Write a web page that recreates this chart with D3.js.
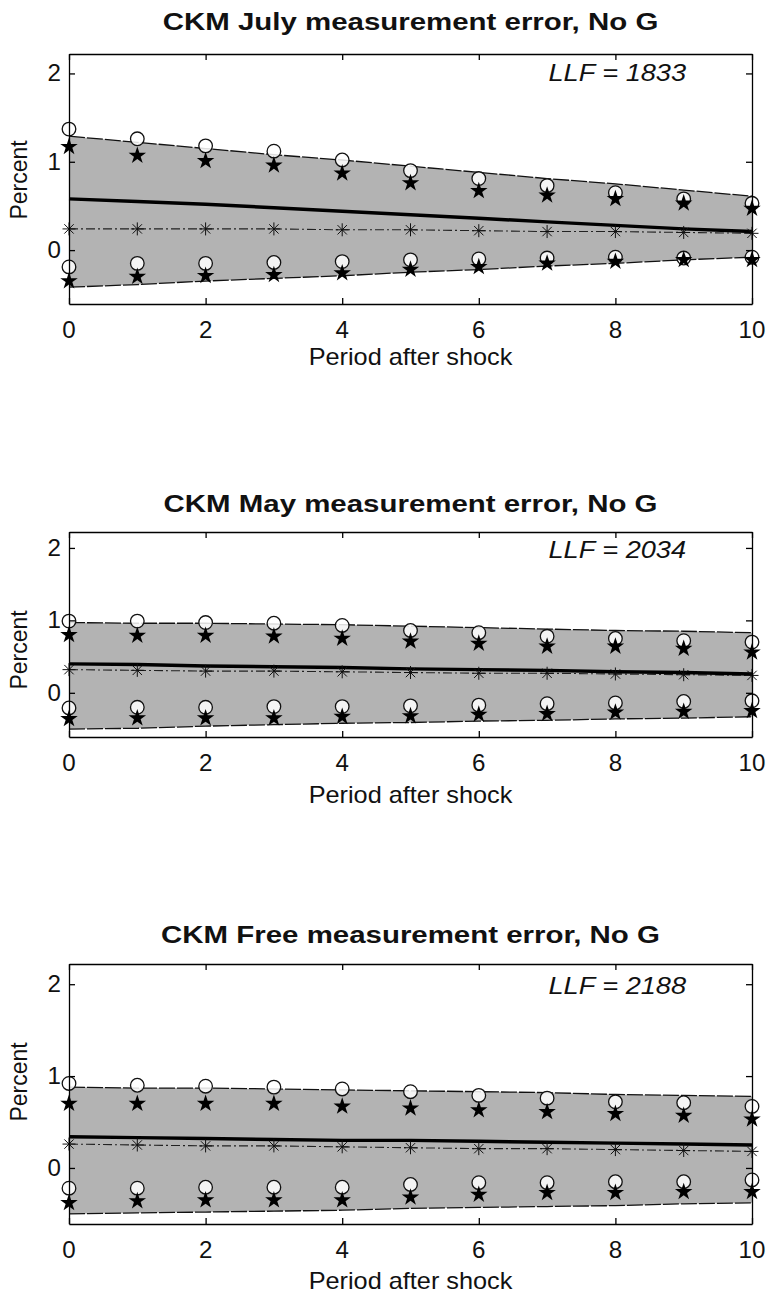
<!DOCTYPE html>
<html>
<head>
<meta charset="utf-8">
<script src="https://cdn.jsdelivr.net/npm/d3@7"></script>
<style>
  html, body { margin: 0; padding: 0; background: #fff; }
  svg { display: block; }
  text { font-family: "Liberation Sans", Arial, Helvetica, sans-serif; fill: #111; }
</style>
</head>
<body>
<script>
// Periods after the shock (x categories)
const periods = [0, 1, 2, 3, 4, 5, 6, 7, 8, 9, 10];
const xTickValues = [0, 2, 4, 6, 8, 10];
const yTickValues = [0, 1, 2];
const yTickLabels = ["0", "1", "2"];
const xTickLabels = ["0", "2", "4", "6", "8", "10"];

const panelTitles = [
  "CKM July measurement error, No G",
  "CKM May measurement error, No G",
  "CKM Free measurement error, No G"
];
const llfValues = [1833, 2034, 2188];
const xAxisLabel = "Period after shock";
const yAxisLabel = "Percent";

// July measurement error
const julyBandUpper = [1.29, 1.22, 1.15, 1.08, 1.02, 0.95, 0.88, 0.81, 0.75, 0.68, 0.61];
const julyBandLower = [-0.42, -0.39, -0.35, -0.32, -0.29, -0.25, -0.22, -0.18, -0.15, -0.11, -0.08];
const julyMedian    = [0.58, 0.55, 0.52, 0.48, 0.44, 0.40, 0.36, 0.32, 0.28, 0.24, 0.21];
const julyPoint     = [0.24, 0.24, 0.24, 0.24, 0.23, 0.23, 0.22, 0.21, 0.21, 0.20, 0.19];
const julyCircleUp  = [1.37, 1.26, 1.18, 1.12, 1.02, 0.90, 0.81, 0.73, 0.65, 0.58, 0.53];
const julyStarUp    = [1.17, 1.07, 1.01, 0.96, 0.87, 0.76, 0.67, 0.62, 0.58, 0.53, 0.47];
const julyCircleLow = [-0.19, -0.15, -0.15, -0.14, -0.13, -0.11, -0.10, -0.09, -0.08, -0.09, -0.08];
const julyStarLow   = [-0.35, -0.30, -0.29, -0.28, -0.26, -0.22, -0.19, -0.15, -0.13, -0.11, -0.11];

// May measurement error
const mayBandUpper = [0.97, 0.96, 0.96, 0.95, 0.94, 0.92, 0.90, 0.88, 0.86, 0.85, 0.83];
const mayBandLower = [-0.50, -0.49, -0.46, -0.44, -0.42, -0.41, -0.39, -0.38, -0.36, -0.35, -0.33];
const mayMedian    = [0.40, 0.39, 0.37, 0.36, 0.35, 0.33, 0.32, 0.31, 0.29, 0.28, 0.26];
const mayPoint     = [0.32, 0.31, 0.30, 0.30, 0.29, 0.28, 0.27, 0.27, 0.26, 0.25, 0.24];
const mayCircleUp  = [0.99, 0.99, 0.97, 0.96, 0.93, 0.86, 0.83, 0.78, 0.75, 0.72, 0.70];
const mayStarUp    = [0.80, 0.79, 0.79, 0.78, 0.75, 0.71, 0.68, 0.64, 0.64, 0.61, 0.56];
const mayCircleLow = [-0.21, -0.20, -0.20, -0.19, -0.19, -0.18, -0.17, -0.15, -0.14, -0.12, -0.11];
const mayStarLow   = [-0.36, -0.35, -0.35, -0.35, -0.33, -0.32, -0.30, -0.29, -0.27, -0.26, -0.25];

// Free measurement error
const freeBandUpper = [0.88, 0.87, 0.87, 0.86, 0.85, 0.84, 0.83, 0.82, 0.80, 0.79, 0.78];
const freeBandLower = [-0.50, -0.49, -0.48, -0.47, -0.46, -0.44, -0.43, -0.42, -0.41, -0.39, -0.38];
const freeMedian    = [0.34, 0.33, 0.32, 0.31, 0.30, 0.30, 0.29, 0.28, 0.27, 0.26, 0.25];
const freePoint     = [0.26, 0.25, 0.24, 0.24, 0.23, 0.22, 0.21, 0.21, 0.20, 0.19, 0.18];
const freeCircleUp  = [0.92, 0.90, 0.89, 0.88, 0.86, 0.83, 0.79, 0.76, 0.72, 0.71, 0.67];
const freeStarUp    = [0.70, 0.70, 0.70, 0.70, 0.67, 0.65, 0.63, 0.61, 0.59, 0.57, 0.53];
const freeCircleLow = [-0.22, -0.22, -0.21, -0.21, -0.21, -0.18, -0.16, -0.16, -0.15, -0.15, -0.13];
const freeStarLow   = [-0.38, -0.36, -0.35, -0.35, -0.35, -0.32, -0.29, -0.27, -0.27, -0.26, -0.26];

const panelSeries = [
  { upper: julyBandUpper, lower: julyBandLower, median: julyMedian, point: julyPoint,
    circleUp: julyCircleUp, starUp: julyStarUp, circleLow: julyCircleLow, starLow: julyStarLow },
  { upper: mayBandUpper, lower: mayBandLower, median: mayMedian, point: mayPoint,
    circleUp: mayCircleUp, starUp: mayStarUp, circleLow: mayCircleLow, starLow: mayStarLow },
  { upper: freeBandUpper, lower: freeBandLower, median: freeMedian, point: freePoint,
    circleUp: freeCircleUp, starUp: freeStarUp, circleLow: freeCircleLow, starLow: freeStarLow }
];

// Page layout
const W = 772, H = 1294;
const plotLeft = 69, plotRight = 752;
const yDomain = [-0.61, 2.22];
const layouts = [
  { top: 54,  bottom: 304,  title: 30,  llf: 81,  xTick: 338,  xLabel: 365,  yLabel: 180 },
  { top: 532, bottom: 737,  title: 512, llf: 558, xTick: 771,  xLabel: 803,  yLabel: 650 },
  { top: 964, bottom: 1224, title: 943, llf: 994, xTick: 1258, xLabel: 1289, yLabel: 1082 }
];

const svg = d3.select("body").append("svg")
  .attr("width", W).attr("height", H);

function label(g, txt, x, y, opts) {
  const o = Object.assign({ size: 23, anchor: "middle", weight: "normal", style: "normal", rotate: 0, sx: 1 }, opts || {});
  const tr = o.rotate
    ? `translate(${x},${y}) rotate(${o.rotate}) scale(1,${o.sx})`
    : `translate(${x},${y}) scale(${o.sx},1)`;
  return g.append("text")
    .attr("transform", tr)
    .attr("text-anchor", o.anchor)
    .attr("font-size", o.size)
    .attr("font-weight", o.weight)
    .attr("font-style", o.style)
    .text(txt);
}

const x = d3.scaleLinear().domain([0, 10]).range([plotLeft, plotRight]);

panelSeries.forEach((s, i) => {
  const L = layouts[i];
  const y = d3.scaleLinear().domain(yDomain).range([L.bottom, L.top]);
  const g = svg.append("g");

  // Confidence band
  const rows = periods.map((p, k) => ({ p, lo: s.lower[k], hi: s.upper[k] }));
  g.append("path").datum(rows)
    .attr("fill", "#b3b3b3")
    .attr("d", d3.area().x(d => x(d.p)).y0(d => y(d.lo)).y1(d => y(d.hi)));
  ["hi", "lo"].forEach(k => {
    g.append("path").datum(rows)
      .attr("fill", "none").attr("stroke", "#111").attr("stroke-width", 1.3)
      .attr("stroke-dasharray", "16,2")
      .attr("d", d3.line().x(d => x(d.p)).y(d => y(d[k])));
  });

  // Point-estimate response (dash-dot) with asterisk markers
  const pt = periods.map((p, k) => ({ p, v: s.point[k] }));
  g.append("path").datum(pt)
    .attr("fill", "none").attr("stroke", "#222").attr("stroke-width", 1.1)
    .attr("stroke-dasharray", "9,3,2,3")
    .attr("d", d3.line().x(d => x(d.p)).y(d => y(d.v)));

  // Median response (thick)
  const md = periods.map((p, k) => ({ p, v: s.median[k] }));
  g.append("path").datum(md)
    .attr("fill", "none").attr("stroke", "#000").attr("stroke-width", 3.4)
    .attr("d", d3.line().x(d => x(d.p)).y(d => y(d.v)));

  // Asterisks
  const ast = g.append("g").attr("stroke", "#111").attr("stroke-width", 1);
  pt.forEach(d => {
    const cx = x(d.p), cy = y(d.v), r = 6.5;
    const a = r * 0.72;
    ast.append("path").attr("d",
      `M${cx - r},${cy}H${cx + r}M${cx},${cy - r}V${cy + r}` +
      `M${cx - a},${cy - a}L${cx + a},${cy + a}M${cx - a},${cy + a}L${cx + a},${cy - a}`);
  });

  // Circles
  const circ = periods.flatMap((p, k) => [{ p, v: s.circleUp[k] }, { p, v: s.circleLow[k] }]);
  g.append("g").selectAll("circle").data(circ).join("circle")
    .attr("cx", d => x(d.p)).attr("cy", d => y(d.v)).attr("r", 6.8)
    .attr("fill", "#fff").attr("fill-opacity", 0.85)
    .attr("stroke", "#111").attr("stroke-width", 1.3);

  // Stars
  const stars = periods.flatMap((p, k) => [{ p, v: s.starUp[k] }, { p, v: s.starLow[k] }]);
  const starPath = d3.symbol().type(d3.symbolStar).size(95)();
  g.append("g").selectAll("path").data(stars).join("path")
    .attr("transform", d => `translate(${x(d.p)},${y(d.v)})`)
    .attr("d", starPath).attr("fill", "#000");

  // Axes: box with inward ticks on all four sides
  g.append("g").attr("transform", `translate(0,${L.bottom})`)
    .call(d3.axisBottom(x).tickValues(xTickValues).tickSize(-6).tickSizeOuter(0).tickFormat(""));
  g.append("g").attr("transform", `translate(0,${L.top})`)
    .call(d3.axisTop(x).tickValues(xTickValues).tickSize(-6).tickSizeOuter(0).tickFormat(""));
  g.append("g").attr("transform", `translate(${plotLeft},0)`)
    .call(d3.axisLeft(y).tickValues(yTickValues).tickSize(-6).tickSizeOuter(0).tickFormat(""));
  g.append("g").attr("transform", `translate(${plotRight},0)`)
    .call(d3.axisRight(y).tickValues(yTickValues).tickSize(-6).tickSizeOuter(0).tickFormat(""));
  g.selectAll(".domain, .tick line").attr("stroke", "#000").attr("stroke-width", 1.3);

  // Tick labels
  xTickValues.forEach((v, k) => label(g, xTickLabels[k], x(v), L.xTick, { size: 23, sx: 1.05 }));
  yTickValues.forEach((v, k) => label(g, yTickLabels[k], plotLeft - 8, y(v) + 8, { anchor: "end", size: 23, sx: 1.05 }));

  // Titles and axis labels
  label(g, panelTitles[i], (plotLeft + plotRight) / 2, L.title, { weight: "bold", size: 23, sx: 1.28 });
  label(g, `LLF = ${llfValues[i]}`, 686, L.llf, { anchor: "end", style: "italic", size: 23, sx: 1.18 });
  label(g, xAxisLabel, (plotLeft + plotRight) / 2, L.xLabel, { size: 23, sx: 1.1 });
  label(g, yAxisLabel, 27, L.yLabel, { rotate: -90, size: 23, sx: 1.05 });
});
</script>
</body>
</html>
